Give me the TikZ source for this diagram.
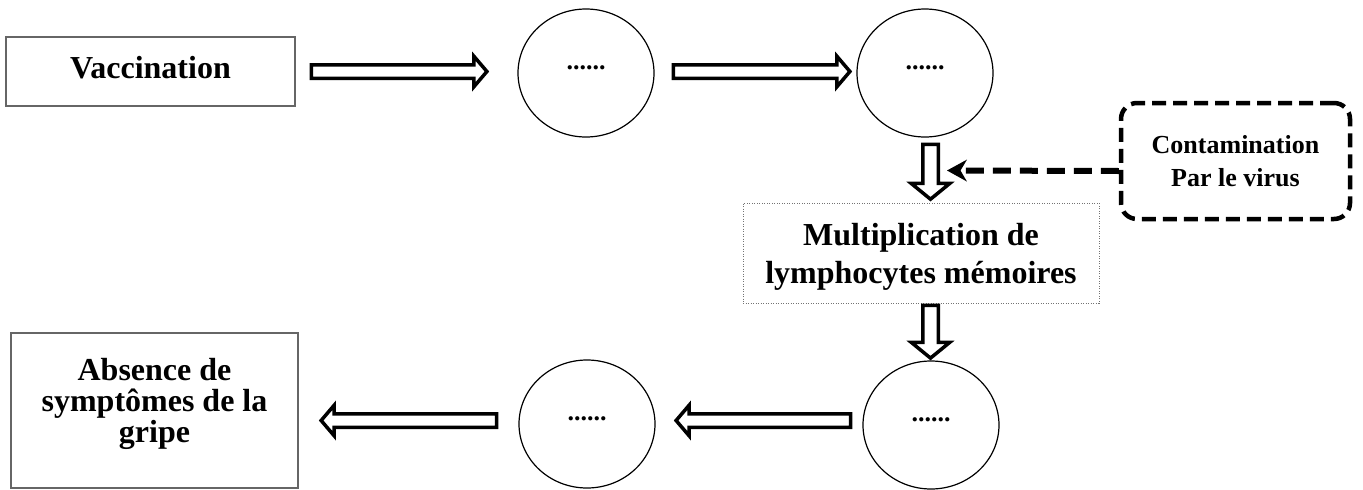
\documentclass[tikz,border=0pt]{standalone}
\usepackage{fontspec}
\setmainfont{Liberation Serif}
\usetikzlibrary{calc,shapes.geometric,arrows.meta}
\begin{document}
\begin{tikzpicture}[x=1pt,y=-1pt,
  plainbox/.style={rectangle, draw=black!60, line width=1.3pt, inner sep=0pt, align=center,
    font=\bfseries\fontsize{32}{31}\selectfont},
  dotbox/.style={rectangle, draw=black!55, line width=1pt, dash pattern=on 1pt off 1.5pt,
    inner sep=0pt, minimum width=356pt, minimum height=100pt, align=center, text depth=0pt,
    font=\bfseries\fontsize{32}{38}\selectfont},
  dashbox/.style={rectangle, draw=black, line width=4.5pt, dash pattern=on 14pt off 7pt,
    rounded corners=16pt, inner sep=0pt, minimum width=229pt, minimum height=116pt, align=center,
    text depth=-8pt, font=\bfseries\fontsize{26}{33}\selectfont},
  bubble/.style={ellipse, draw=black, line width=1.2pt, minimum width=136pt, minimum height=128pt,
    inner sep=0pt, text depth=10pt, font=\bfseries\fontsize{26}{26}\selectfont},
  blockarrow/.style n args={3}{draw=black, line width=3.5pt, fill=white, line join=miter, miter limit=10,
    to path={let \p1=(\tikztostart), \p2=(\tikztotarget),
      \n1={atan2(\y2-\y1,\x2-\x1)}, \n2={veclen(\x2-\x1,\y2-\y1)} in
      ($(\p1)+({\n1+90}:#1pt)$)
      -- ($(\p1)+(\n1:{(\n2-#3)*1pt})+({\n1+90}:#1pt)$)
      -- ($(\p1)+(\n1:{(\n2-#3)*1pt})+({\n1+90}:#2pt)$)
      -- (\p2)
      -- ($(\p1)+(\n1:{(\n2-#3)*1pt})+({\n1-90}:#2pt)$)
      -- ($(\p1)+(\n1:{(\n2-#3)*1pt})+({\n1-90}:#1pt)$)
      -- ($(\p1)+({\n1-90}:#1pt)$) -- cycle}},
  harrow/.style={blockarrow={6.75}{15.25}{13}},
  varrow/.style={blockarrow={7.75}{19.25}{15.75}},
  dasharrow/.style={draw=black, line width=6pt, dash pattern=on 18pt off 9pt,
    -{Stealth[length=20pt,width=22pt,line width=0pt]}}
]
\useasboundingbox (0,0) rectangle (1363,490);

\node[plainbox, minimum width=289pt, minimum height=69pt, text depth=9pt] (vac) at (150.5,71.5) {Vaccination};
\node[bubble] (c1) at (586,73) {......};
\node[bubble] (c2) at (925,73) {......};
\node[dotbox] (mult) at (921,253) {Multiplication de\\lymphocytes mémoires};
\node[dashbox] (cont) at (1235.5,161) {Contamination\\Par le virus};
\node[bubble] (c3) at (931,425) {......};
\node[bubble] (c4) at (587,424) {......};
\node[plainbox, minimum width=287pt, minimum height=155pt, text depth=20pt] (abs) at (154.5,410.5) {Absence de\\symptômes de la\\gripe};

\coordinate (a1s) at ($(vac.east)+(15.75,0)$);
\coordinate (a1e) at ($(c1.west)+(-30.5,-1.5)$);
\coordinate (a2s) at ($(c1.east)+(18.75,-1.5)$);
\coordinate (a2e) at ($(c2.west)+(-6.5,-1.5)$);
\coordinate (a3s) at ($(c2.south)+(5.5,6.75)$);
\coordinate (a3e) at ($(mult.north)+(9.5,-3.3)$);
\coordinate (a4s) at ($(mult.south)+(9.5,1.75)$);
\coordinate (a4e) at ($(c3.north)+(-0.5,-2.3)$);
\coordinate (a5s) at ($(c3.west)+(-11.75,-4.5)$);
\coordinate (a5e) at ($(c4.east)+(20.5,-3.5)$);
\coordinate (a6s) at ($(c4.west)+(-21.75,-3.5)$);
\coordinate (a6e) at ($(abs.east)+(22.5,10)$);
\coordinate (dstart) at ($(cont.west)+(0,10)$);
\coordinate (dtip) at ($(mult.north)+(26,-32)$);

\draw[harrow] (a1s) to (a1e);
\draw[harrow] (a2s) to (a2e);
\draw[varrow] (a3s) to (a3e);
\draw[varrow] (a4s) to (a4e);
\draw[harrow] (a5s) to (a5e);
\draw[harrow] (a6s) to (a6e);
\draw[dasharrow] (dstart) -- (dtip);
\end{tikzpicture}
\end{document}
